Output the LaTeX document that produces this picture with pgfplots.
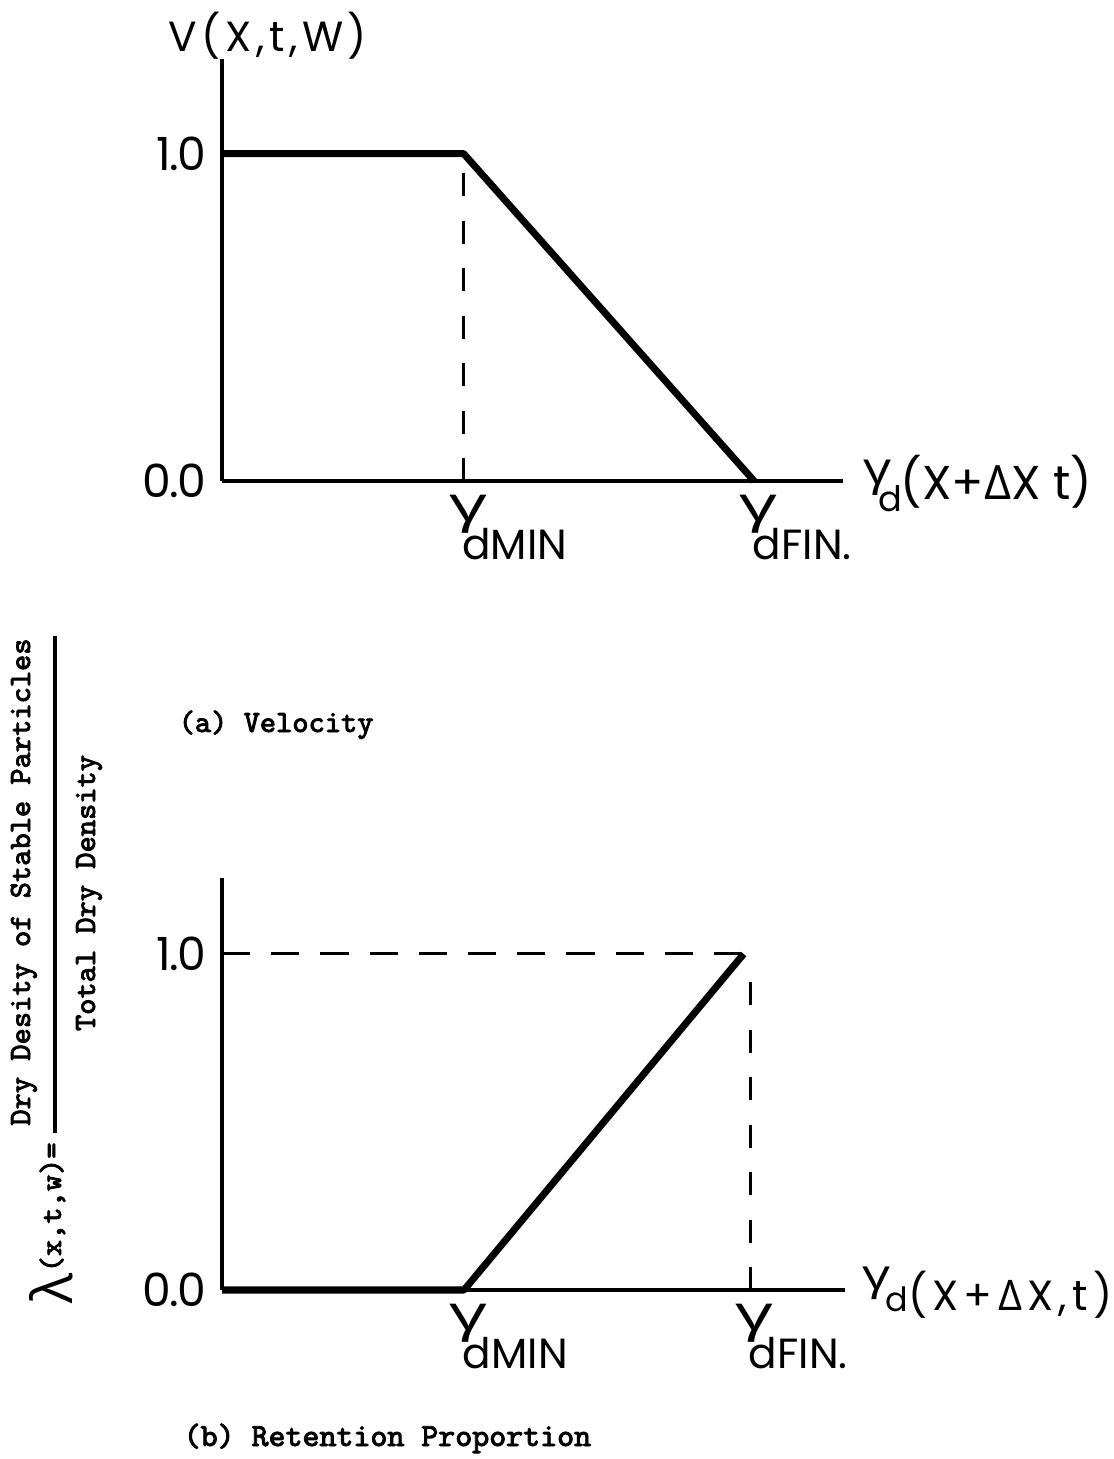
\documentclass[border=0pt]{standalone}
\usepackage{fontspec}
\usepackage{graphicx}
\usepackage{pgfplots}
\pgfplotsset{compat=1.18}

% lettering on the drawings, Greek letters, and the typed captions
\newfontfamily\leroy{Poppins}[Numbers=Proportional]
\newfontfamily\greekfont{Open Sans}
\newfontfamily\typed{Latin Modern Mono}[FakeBold=2.5]
\newcommand{\lettering}[1]{\leroy\fontsize{#1pt}{#1pt}\selectfont}
\newcommand{\tw}[1]{\typed\fontsize{#1pt}{#1pt}\selectfont}
\newcommand{\gap}{\kern1.3pt}
\newcommand{\sgap}{\kern1.5pt}
% gamma with a lowered "d..." subscript, used under the x axis
\newcommand{\gtick}[1]{\mbox{{\greekfont\fontsize{14pt}{14pt}\selectfont\scalebox{1.5}[1]{γ}}\kern-7pt\raisebox{-11pt}{\lettering{12}d#1}}}

\pgfplotsset{
  sketch/.style={
    scale only axis, axis lines=left, clip=false,
    axis line style={-, line width=1.3pt},
    every outer x axis line/.append style={-},
    every outer y axis line/.append style={-},
    major tick length=0pt, tick style={draw=none},
    ytick={0,1}, yticklabels={0\kern-0.5pt.\kern-0.5pt0,1\kern-0.5pt.\kern-0.5pt0},
    yticklabel style={anchor=east, inner sep=0pt, xshift=-4.3pt, font=\lettering{13}},
    xticklabel style={anchor=north west, inner sep=0pt, xshift=-4.3pt, yshift=-3.7pt},
  },
  curve/.style={black, line width=2pt, line join=round},
  guide/.style={black, line width=0.85pt, dash pattern=on 6.5pt off 7pt},
  guideh/.style={black, line width=0.85pt, dash pattern=on 8pt off 6pt},
}

\begin{document}
\begin{tikzpicture}
\useasboundingbox (0,0) rectangle (11.13cm,-14.59cm);

% (a) velocity
\begin{axis}[sketch,
  anchor=south west, at={(2.22cm,-4.81cm)},
  width=6.21cm, height=4.22cm,
  xmin=0, xmax=2.570, ymin=0, ymax=1.289,
  xtick={1,2.202}, xticklabels={\gtick{MIN},\gtick{FIN.}},
]
\addplot[curve] coordinates {(0,1) (1,1) (2.202,0)};
\addplot[guide] coordinates {(1,0) (1,0.956)};
\end{axis}

% (b) retention proportion
\begin{axis}[sketch,
  anchor=south west, at={(2.22cm,-12.90cm)},
  width=6.23cm, height=4.12cm,
  xmin=0, xmax=2.574, ymin=0, ymax=1.226,
  xtick={1,2.182}, xticklabels={\gtick{MIN},\gtick{FIN.}},
]
\addplot[curve] coordinates {(0,0) (1,0) (2.155,1)};
\addplot[guideh] coordinates {(0,1) (2.155,1)};
\addplot[guide] coordinates {(2.182,0) (2.182,0.943)};
\end{axis}

% axis titles
\node[anchor=base west, inner sep=0pt] at (1.68cm,-0.52cm)
  {\lettering{12}V\gap(\gap X\gap,\gap t\gap,\gap W\gap)};
\node[anchor=base west, inner sep=0pt] at (8.63cm,-5.00cm)
  {\raisebox{4.5pt}{\greekfont\fontsize{13pt}{13pt}\selectfont\scalebox{1.2}[1]{γ}}\kern-3.7pt\raisebox{-3.4pt}{\lettering{10}d}\kern-0.5pt{\lettering{13.5}(X+{\greekfont Δ}X t)}};
\node[anchor=base west, inner sep=0pt] at (8.62cm,-13.10cm)
  {\raisebox{5.7pt}{\greekfont\fontsize{12pt}{12pt}\selectfont\scalebox{1.3}[1]{γ}}\kern-1.5pt\raisebox{-0.5pt}{\lettering{9.5}d}{\lettering{12}(\sgap X\sgap+\sgap{\greekfont Δ}\sgap X\sgap,\sgap t\sgap)}};

% ratio written along the left edge of (b)
\node[rotate=90, anchor=base, inner sep=0pt] at (0.30cm,-8.82cm)
  {\tw{8.8}Dry Desity of Stable Particles};
\draw[line width=0.9pt] (0.55cm,-11.33cm) -- (0.55cm,-6.36cm);
\node[rotate=90, anchor=base, inner sep=0pt] at (0.95cm,-8.93cm)
  {\tw{8.8}Total Dry Density};
\node[rotate=90, anchor=base west, inner sep=0pt] at (0.61cm,-12.73cm)
  {\tw{8.8}(x,t,w)=};
\node[rotate=90, anchor=base east, inner sep=0pt] at (0.72cm,-12.73cm)
  {\greekfont\fontsize{16pt}{16pt}\selectfont λ};

% captions
\node[anchor=base west, inner sep=0pt] at (1.78cm,-7.32cm)
  {\tw{8.8}(a) Velocity};
\node[anchor=base west, inner sep=0pt] at (1.83cm,-14.46cm)
  {\tw{9.2}(b) Retention Proportion};
\end{tikzpicture}
\end{document}
